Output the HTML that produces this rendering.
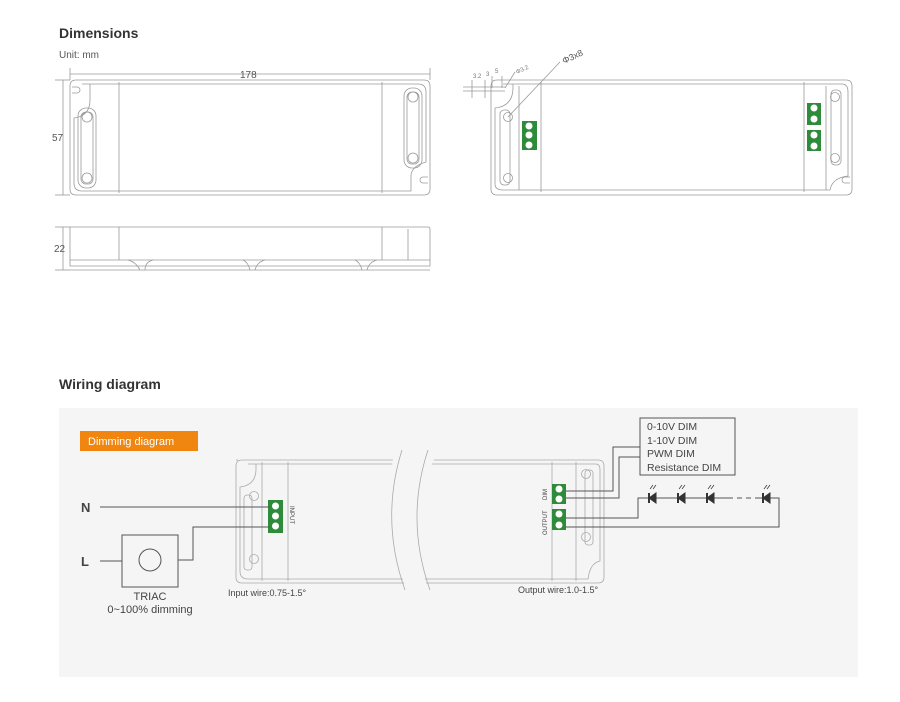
<!DOCTYPE html>
<html><head><meta charset="utf-8"><style>
html,body{margin:0;padding:0;background:#fff;width:900px;height:702px;overflow:hidden}
svg text{font-family:"Liberation Sans",sans-serif}
</style></head><body>
<svg width="900" height="702" viewBox="0 0 900 702" xmlns="http://www.w3.org/2000/svg">
<g fill="none" stroke="#9a9a9a" stroke-width="0.8">
<!-- top view left -->
<line x1="70" y1="74" x2="430" y2="74"/><line x1="70" y1="68" x2="70" y2="80"/><line x1="430" y1="68" x2="430" y2="80"/>
<line x1="55" y1="80" x2="70" y2="80"/><line x1="55" y1="195" x2="70" y2="195"/><line x1="63" y1="80" x2="63" y2="195"/>
<path d="M76 80 H424 Q430 80 430 86 V189 Q430 195 424 195 H76 Q70 195 70 189 V86 Q70 80 76 80Z"/>
<path d="M82 84 H418 Q426 84 426 92 V162 Q412 166 411 175 V191 H82 Q74 191 74 183 V118 Q90 116 90 100 V84"/>
<path d="M72 87 h5 a3 3 0 0 1 0 6 h-5"/><path d="M428 183 h-5 a3 3 0 0 1 0 -6 h5"/>
<line x1="119" y1="82" x2="119" y2="193"/><line x1="382" y1="82" x2="382" y2="193"/>
<rect x="78" y="108" width="18" height="80" rx="8"/><rect x="81" y="112" width="12" height="72" rx="5"/>
<rect x="404" y="88" width="18" height="80" rx="8"/><rect x="407" y="92" width="12" height="72" rx="5"/>
<circle cx="87" cy="117" r="5"/><circle cx="87" cy="178" r="5"/><circle cx="413" cy="97" r="5"/><circle cx="413" cy="158" r="5"/>
<!-- side view -->
<line x1="55" y1="227" x2="70" y2="227"/><line x1="55" y1="270" x2="70" y2="270"/><line x1="63" y1="227" x2="63" y2="270"/>
<path d="M70 227 H428 Q430 227 430 229 V266 H70 Z"/>
<line x1="70" y1="260" x2="430" y2="260"/>
<line x1="119" y1="227" x2="119" y2="260"/><line x1="382" y1="227" x2="382" y2="260"/><line x1="408" y1="229" x2="408" y2="260"/>
<path d="M128 260 q8 2 12 10 M145 270 q0 -8 8 -10 M243 260 q5 2 7 10 M255 270 q2 -8 10 -10 M355 260 q5 2 7 10 M367 270 q2 -8 10 -10"/>
<line x1="70" y1="270" x2="430" y2="270"/>
<!-- top view right -->
<path d="M497 80 H846 Q852 80 852 86 V189 Q852 195 846 195 H497 Q491 195 491 189 V86 Q491 80 497 80Z"/>
<path d="M503 84 H842 Q848 84 848 92 V176 Q832 178 830 190 H503 Q495 190 495 184 V108 Q513 106 513 88 V84"/>
<path d="M850 183 h-5 a3 3 0 0 1 0 -6 h5"/>
<line x1="541" y1="82" x2="541" y2="192"/><line x1="804" y1="82" x2="804" y2="192"/>
<line x1="519" y1="86" x2="519" y2="190"/><line x1="826" y1="86" x2="826" y2="190"/>
<rect x="500" y="110" width="10" height="75" rx="4"/><rect x="831" y="90" width="10" height="75" rx="4"/>
<circle cx="508" cy="117" r="4.5"/><circle cx="508" cy="178" r="4.5"/><circle cx="835" cy="97" r="4.5"/><circle cx="835" cy="158" r="4.5"/>
<line x1="508" y1="117" x2="560" y2="62"/>
<line x1="463" y1="87" x2="505" y2="87"/><line x1="463" y1="91" x2="505" y2="91"/>
<line x1="472" y1="80" x2="472" y2="98"/><line x1="485" y1="80" x2="485" y2="98"/><line x1="492" y1="76" x2="492" y2="88"/><line x1="502" y1="76" x2="502" y2="88"/>
<line x1="505" y1="88" x2="515" y2="72"/>
</g>
<!-- green terminals top -->
<g fill="#2e8b3a"><rect x="522" y="121" width="15" height="29"/><rect x="807" y="103" width="14" height="22"/><rect x="807" y="130" width="14" height="21"/></g>
<g fill="#fff"><circle cx="529" cy="126" r="3.5"/><circle cx="529" cy="135" r="3.5"/><circle cx="529" cy="145" r="3.5"/>
<circle cx="814" cy="108" r="3.5"/><circle cx="814" cy="119" r="3.5"/><circle cx="814" cy="135" r="3.5"/><circle cx="814" cy="146" r="3.5"/></g>
<g fill="#333"><text x="59" y="38" font-size="14" font-weight="bold">Dimensions</text>
<text x="59" y="58" font-size="10" fill="#555">Unit: mm</text>
<text x="240" y="78" font-size="10" fill="#555">178</text>
<text x="52" y="141" font-size="10" fill="#555">57</text>
<text x="54" y="252" font-size="10" fill="#555">22</text>
<text x="564" y="64" font-size="9" fill="#555" transform="rotate(-25 564 64)">Φ3x8</text>
<text x="517" y="74" font-size="6" fill="#777" transform="rotate(-25 517 74)">Φ3.2</text>
<text x="473" y="78" font-size="6" fill="#777">3.2</text><text x="486" y="76" font-size="6" fill="#777">3</text><text x="495" y="73" font-size="6" fill="#777">5</text>
<text x="59" y="389" font-size="14" font-weight="bold">Wiring diagram</text></g>
<!-- wiring -->
<rect x="59" y="408" width="799" height="269" fill="#f5f5f5"/>
<rect x="80" y="431" width="118" height="20" fill="#f0860f"/>
<text x="88" y="445" font-size="11" fill="#fff">Dimming diagram</text>
<g fill="none" stroke="#aaa" stroke-width="0.8">
<path d="M242 460 H598 Q604 460 604 466 V577 Q604 583 598 583 H242 Q236 583 236 577 V466 Q236 460 242 460Z"/>
<path d="M248 464 H596 Q600 464 600 470 V561 Q590 563 588 579 H248 Q240 579 240 571 V487 Q256 485 256 469 V464"/>
<line x1="288" y1="462" x2="288" y2="581"/><line x1="262" y1="462" x2="262" y2="581"/>
<line x1="552" y1="462" x2="552" y2="581"/><line x1="576" y1="462" x2="576" y2="581"/>
<rect x="244" y="495" width="8" height="75" rx="3"/><rect x="585" y="470" width="8" height="75" rx="3"/>
<circle cx="254" cy="496" r="4.5"/><circle cx="254" cy="559" r="4.5"/><circle cx="586" cy="474" r="4.5"/><circle cx="586" cy="537" r="4.5"/>
<path d="M236 460 h2 M238 460"/>
</g>
<path d="M395 448 Q380 520 410 600 L432 600 Q400 520 440 448 Z" fill="#f5f5f5"/>
<g fill="none" stroke="#aaa" stroke-width="0.8"><path d="M402 450 Q380 520 405 590"/><path d="M428 450 Q405 520 430 590"/></g>
<g fill="#2e8b3a"><rect x="268" y="500" width="15" height="33"/><rect x="552" y="484" width="14" height="20"/><rect x="552" y="509" width="14" height="21"/></g>
<g fill="#fff"><circle cx="275.5" cy="506" r="3.5"/><circle cx="275.5" cy="516" r="3.5"/><circle cx="275.5" cy="526" r="3.5"/>
<circle cx="559" cy="489" r="3.5"/><circle cx="559" cy="499" r="3.5"/><circle cx="559" cy="514" r="3.5"/><circle cx="559" cy="525" r="3.5"/></g>
<g fill="none" stroke="#555" stroke-width="1">
<line x1="100" y1="507" x2="270" y2="507"/>
<line x1="100" y1="561" x2="122" y2="561"/>
<rect x="122" y="535" width="56" height="52"/><circle cx="150" cy="560" r="11"/>
<polyline points="178,560 193,560 193,527 270,527"/>
<polyline points="566,491 613,491 613,447 640,447"/>
<polyline points="566,498 619,498 619,457 640,457"/>
<polyline points="566,518 638,518 638,498 779,498 779,527 566,527"/>
<rect x="640" y="418" width="95" height="57" fill="#f5f5f5"/>
</g>
<rect x="728" y="494" width="32" height="8" fill="#f5f5f5"/>
<line x1="728" y1="498" x2="760" y2="498" stroke="#555" stroke-dasharray="5,4"/>
<g fill="#333" stroke="#333" stroke-width="1">
<g transform="translate(652,498)"><polygon points="4,-5 4,5 -3,0"/><line x1="-3" y1="-5" x2="-3" y2="5" stroke-width="2"/><path d="M-2 -9 l3 -4 M1 -9 l3 -4" stroke-width="0.7" fill="none"/></g>
<g transform="translate(681,498)"><polygon points="4,-5 4,5 -3,0"/><line x1="-3" y1="-5" x2="-3" y2="5" stroke-width="2"/><path d="M-2 -9 l3 -4 M1 -9 l3 -4" stroke-width="0.7" fill="none"/></g>
<g transform="translate(710,498)"><polygon points="4,-5 4,5 -3,0"/><line x1="-3" y1="-5" x2="-3" y2="5" stroke-width="2"/><path d="M-2 -9 l3 -4 M1 -9 l3 -4" stroke-width="0.7" fill="none"/></g>
<g transform="translate(766,498)"><polygon points="4,-5 4,5 -3,0"/><line x1="-3" y1="-5" x2="-3" y2="5" stroke-width="2"/><path d="M-2 -9 l3 -4 M1 -9 l3 -4" stroke-width="0.7" fill="none"/></g>
</g>
<g fill="#444">
<text x="81" y="512" font-size="13" font-weight="bold">N</text>
<text x="81" y="566" font-size="13" font-weight="bold">L</text>
<text x="150" y="600" font-size="11" text-anchor="middle">TRIAC</text>
<text x="150" y="613" font-size="11" text-anchor="middle">0~100% dimming</text>
<text x="228" y="596" font-size="9">Input wire:0.75-1.5°</text>
<text x="518" y="593" font-size="9">Output wire:1.0-1.5°</text>
<text x="647" y="430" font-size="10.5">0-10V DIM</text>
<text x="647" y="444" font-size="10.5">1-10V DIM</text>
<text x="647" y="457" font-size="10.5">PWM DIM</text>
<text x="647" y="471" font-size="10.5">Resistance DIM</text>
<text x="290" y="506" font-size="6" transform="rotate(90 290 506)">INPUT</text>
<text x="547" y="500" font-size="6" transform="rotate(-90 547 500)">DIM</text>
<text x="547" y="535" font-size="6" transform="rotate(-90 547 535)">OUTPUT</text>
</g>
</svg>
</body></html>
